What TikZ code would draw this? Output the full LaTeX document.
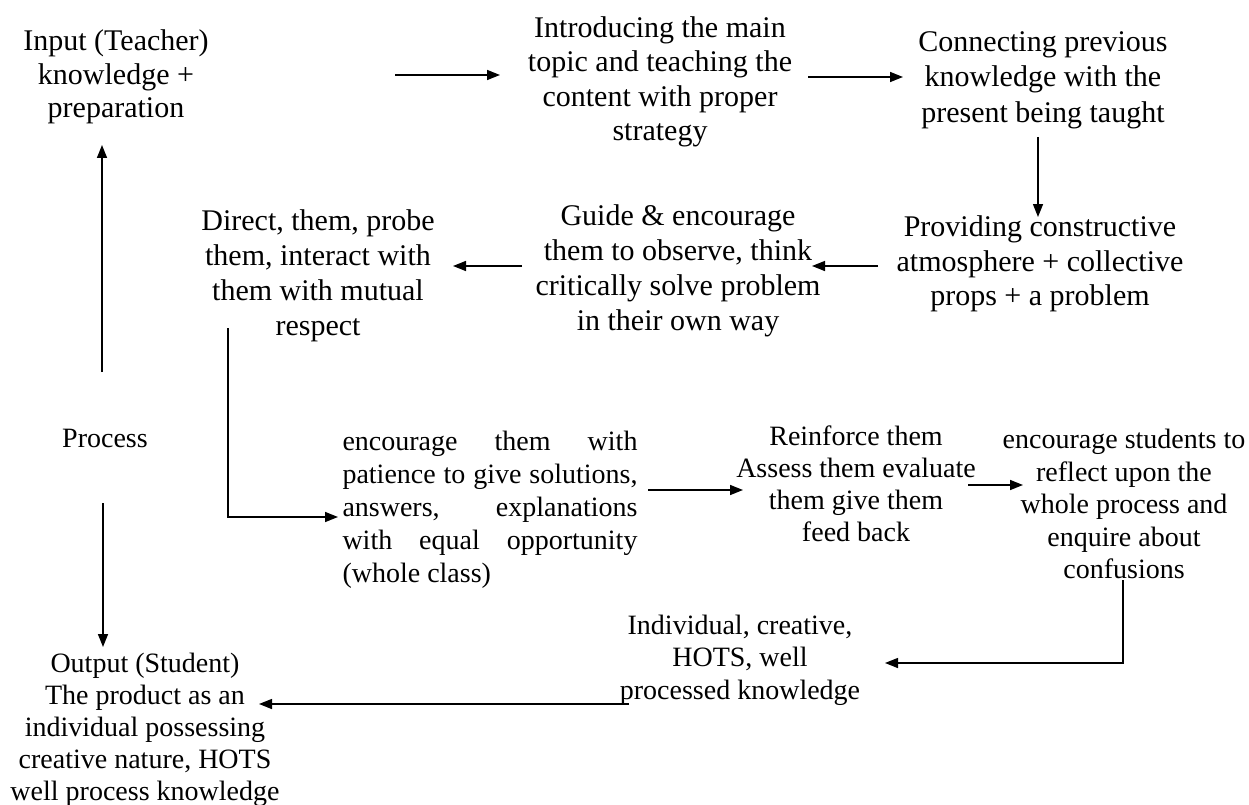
\documentclass[tikz,border=0pt]{standalone}
\usepackage{fontspec}
\setmainfont{Liberation Serif}
\usetikzlibrary{arrows.meta,calc}
\begin{document}
\begin{tikzpicture}[x=1pt,y=-1pt,
  big/.style={font=\fontsize{30}{34.5}\selectfont, align=center, inner sep=0pt},
  small/.style={font=\fontsize{28}{32.5}\selectfont, align=center, inner sep=0pt},
  arr/.style={line width=1.5pt, -{Triangle[length=13pt,width=10pt]}}]
\useasboundingbox[fill=white] (0,0) rectangle (1249,805);
% top group
\node[big, font=\fontsize{30}{33.5}\selectfont] (inp) at (116,77) {Input (Teacher)\\knowledge +\\preparation};
\node[big] (intro) at (660,82) {Introducing the main\\topic and teaching the\\content with proper\\strategy};
\node[big, font=\fontsize{30}{35.5}\selectfont] (conn) at (1043,80) {Connecting previous\\knowledge with the\\present being taught};
\node[big] (prov) at (1040,264) {Providing constructive\\atmosphere + collective\\props + a problem};
\node[big, font=\fontsize{30}{35}\selectfont] (guide) at (678,271) {Guide \& encourage\\them to observe, think\\critically solve problem\\in their own way};
\node[big, font=\fontsize{30}{35}\selectfont] (direct) at (318,276) {Direct, them, probe\\them, interact with\\them with mutual\\respect};
% lower group
\node[small] (proc) at (105,438) {Process};
\node[small, align=left, font=\fontsize{28}{33}\selectfont] (enc) at (490,510)
  {\hbox to 295pt{encourage\hfill them\hfill with}\\
   \hbox to 295pt{patience\hfill to\hfill give\hfill solutions,}\\
   \hbox to 295pt{answers,\hfill explanations}\\
   \hbox to 295pt{with\hfill equal\hfill opportunity}\\
   (whole class)};
\node[small, font=\fontsize{28}{32}\selectfont] (reinf) at (856,484) {Reinforce them\\Assess them evaluate\\them give them\\feed back};
\node[small] (stud) at (1124,504) {encourage students to\\reflect upon the\\whole process and\\enquire about\\confusions};
\node[small] (indiv) at (740,660) {Individual, creative,\\HOTS, well\\processed knowledge};
\node[small, font=\fontsize{28}{32}\selectfont] (out) at (145,730) {Output (Student)\\The product as an\\individual possessing\\creative nature, HOTS\\well process knowledge};
% connectors
\draw[arr] ($(inp)+(279,-2)$) -- ++(105,0);
\draw[arr] ($(intro)+(148,-5)$) -- ++(95,0);
\draw[arr] ($(conn)+(-5,57)$) -- ++(0,80);
\draw[arr] ($(prov)+(-162,2)$) -- ++(-66,0);
\draw[arr] ($(guide)+(-156,-5)$) -- ++(-69,0);
\draw[arr] ($(direct)+(-90,52)$) |- ($(enc)+(-152,7)$);
\draw[arr] ($(enc)+(158,-20)$) -- ++(95,0);
\draw[arr] ($(reinf)+(112,1)$) -- ++(55,0);
\draw[arr] ($(stud)+(-1,76)$) |- ($(indiv)+(145,3)$);
\draw[arr] ($(indiv)+(-111,44)$) -- ++(-370,0);
\draw[arr] ($(proc)+(-3,-66)$) -- ++(0,-227);
\draw[arr] ($(proc)+(-2,65)$) -- ++(0,144);
\end{tikzpicture}
\end{document}
